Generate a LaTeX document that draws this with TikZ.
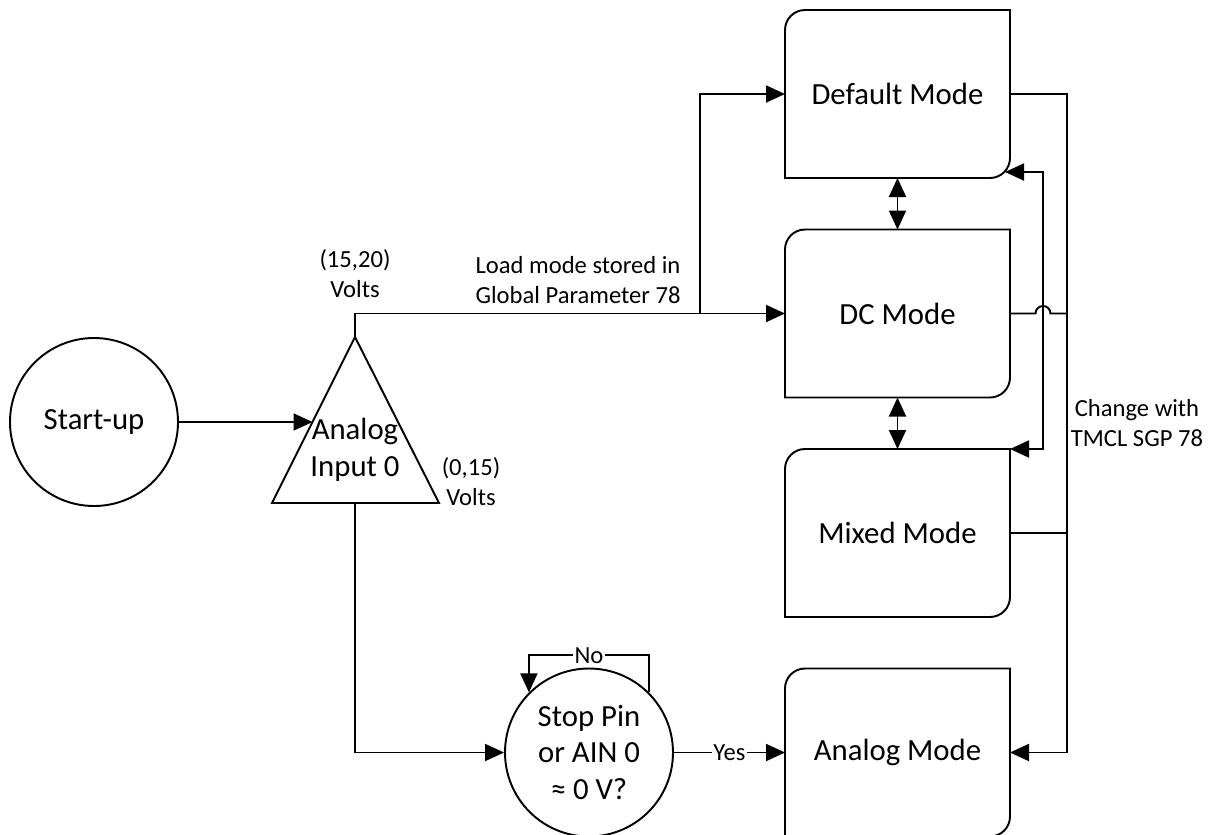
\documentclass[tikz,border=0pt]{standalone}
\usepackage{fontspec}
\setmainfont{Carlito}
\usetikzlibrary{arrows.meta}

\begin{document}
\begin{tikzpicture}[
    line width=1.1pt,
    >={Triangle[length=0.38cm,width=0.34cm]},
    txt/.style={font=\fontsize{17.5}{21}\selectfont,align=center},
    lbl/.style={font=\fontsize{14}{17}\selectfont,align=center},
    modebox/.style={txt,minimum width=4.5cm,minimum height=3.36cm,inner sep=0pt,outer sep=0pt},
    roundnode/.style={txt,draw,circle,minimum size=3.36cm,inner sep=0pt}
  ]
  \useasboundingbox (0,0) rectangle (24.3,-16.68);

  % Start-up
  \node[roundnode] (start) at (1.88,-8.44) {Start-up};

  % Analog input triangle
  \coordinate (ain top) at (7.1,-6.74);
  \coordinate (ain bl) at (5.44,-10.06);
  \coordinate (ain br) at (8.78,-10.06);
  \coordinate (ain base) at (7.1,-10.06);
  \coordinate (ain left) at (6.25,-8.44);
  \draw (ain top) -- (ain bl) -- (ain br) -- cycle;
  \node[txt] (ain) at (7.1,-9.0) {Analog\\Input 0};

  % Mode boxes
  \node[modebox] (dflt) at (17.95,-1.88) {Default Mode};
  \node[modebox] (dc) at (17.95,-6.27) {DC Mode};
  \node[modebox] (mixed) at (17.95,-10.66) {Mixed Mode};
  \node[modebox] (analog) at (17.95,-15.05) {Analog Mode};
  \foreach \m in {dflt,dc,mixed,analog}
    \draw (\m.south west) -- ([yshift=-0.4cm]\m.north west)
      arc[start angle=180,end angle=90,radius=0.4cm] -- (\m.north east)
      -- ([yshift=0.4cm]\m.south east)
      arc[start angle=0,end angle=-90,radius=0.4cm] -- cycle;

  % Stop pin check
  \node[roundnode] (stop) at (11.78,-15.05) {Stop Pin\\or AIN 0\\≈ 0 V?};

  % Labels
  \node[lbl] (hi) at (7.1,-5.48) {(15,20)\\Volts};
  \node[lbl] (lo) at (9.42,-9.64) {(0,15)\\Volts};
  \node[lbl] (load) at (11.56,-5.6) {Load mode stored in\\Global Parameter 78};
  \node[lbl] (sgp) at (22.74,-8.46) {Change with\\TMCL SGP 78};

  \coordinate (bus) at (21.34,0);

  % Connectors
  \draw[->] (start) -- (ain left);
  \draw[->] (ain top) |- (dc.west);
  \draw[->] (ain top) |- ([xshift=-1.7cm]dc.west) |- (dflt.west);
  \draw[->] (ain base) |- (stop.west);
  \draw[->] (stop) -- node[lbl,fill=white,inner sep=1pt] {Yes} (analog);
  \draw[->] (stop.45) -- ++(0,0.74) -| node[lbl,pos=0.25,fill=white,inner sep=1pt] {No} (stop.135);
  \draw[<->] (dflt) -- (dc);
  \draw[<->] (dc) -- (mixed);

  % Mode changes on the right
  \draw[->] (dflt.east) -- (dflt.east -| bus) |- (analog.east);
  \draw (dc.east) -- ([xshift=0.51cm]dc.east)
    arc[start angle=180,end angle=0,radius=0.15cm] -- (dc.east -| bus);
  \draw (mixed.east) -- (mixed.east -| bus);
  \draw[<->] ([xshift=-0.1cm,yshift=0.12cm]dflt.south east)
    -| ([xshift=0.66cm]mixed.north east) -- (mixed.north east);
\end{tikzpicture}
\end{document}
